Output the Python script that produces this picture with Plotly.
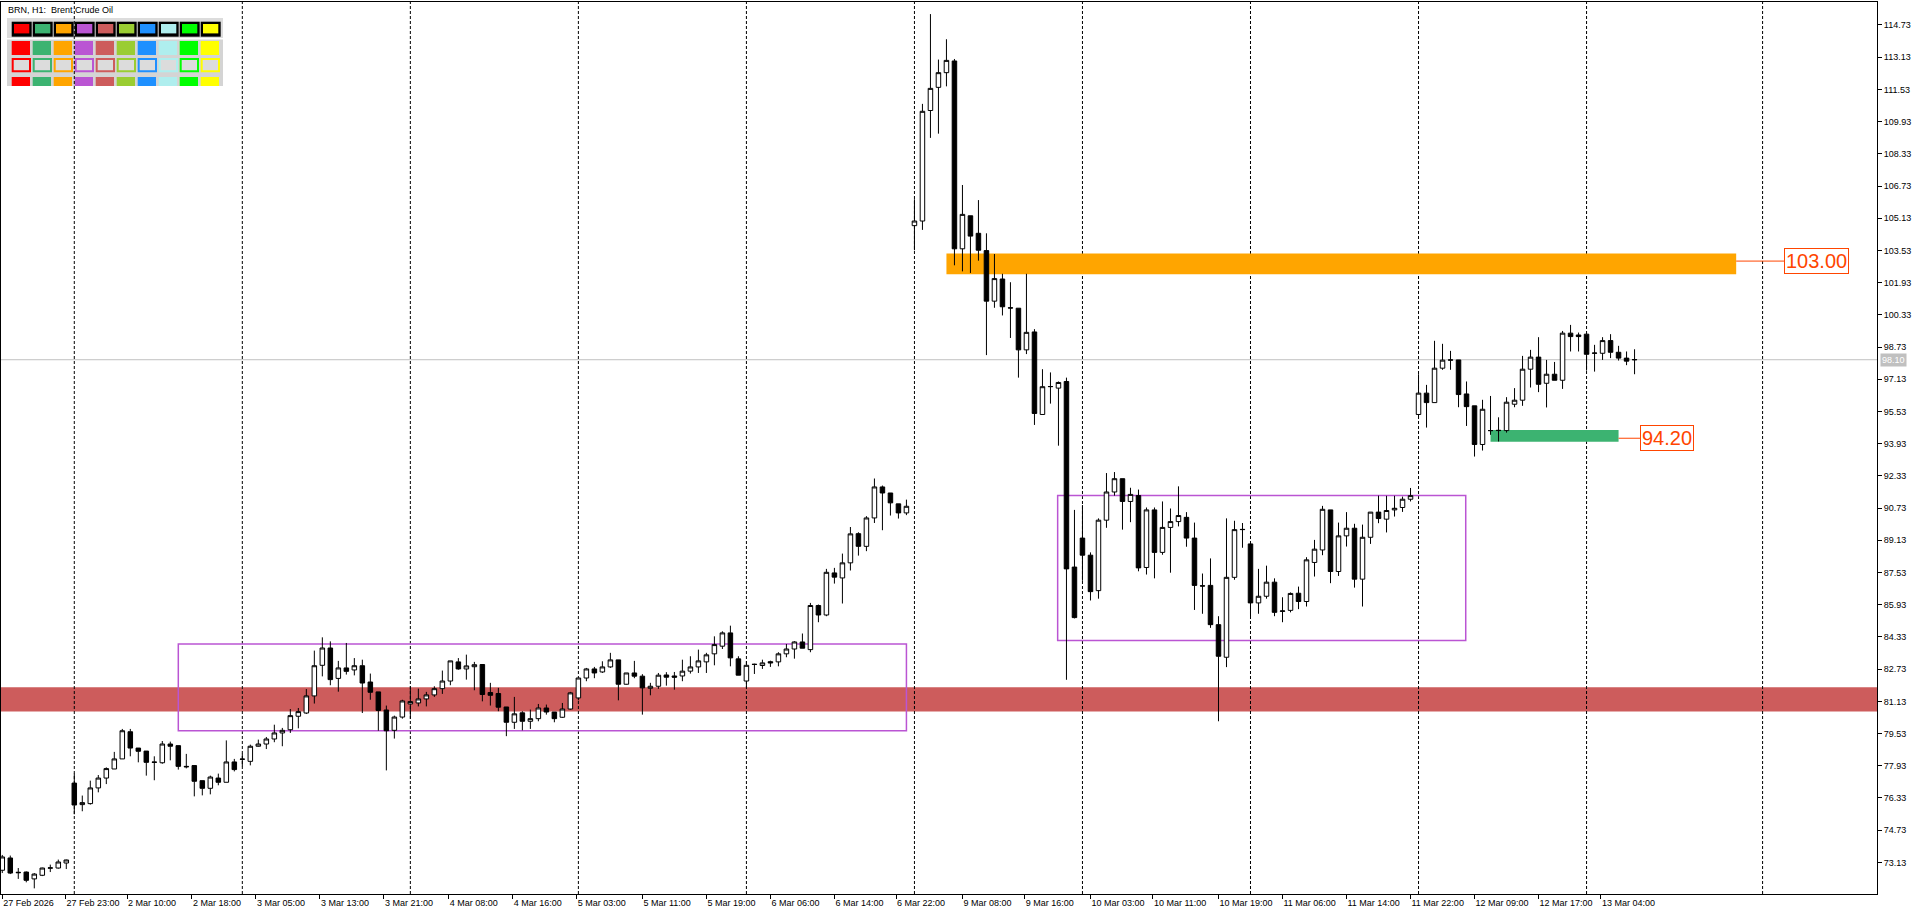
import plotly.graph_objects as go

# hourly Brent bars, 27 Feb 2026 15:00 .. 13 Mar 2026 09:00 (index = bar number)
BAR_OPEN = [
    72.74, 73.35, 72.64, 72.65, 72.31, 72.49, 72.84, 72.85, 73.10,
    77.07, 76.00, 76.05, 76.83, 77.32, 77.77, 78.27, 79.62, 78.81, 78.66,
    78.12, 78.08, 79.01, 78.93, 77.90, 77.94, 77.19, 76.81, 77.32, 77.11, 78.12,
    78.25, 78.15, 78.90, 79.01, 79.26, 79.56, 79.72, 80.39, 80.55, 81.40,
    82.92, 83.78, 82.27, 82.79, 82.69, 82.90, 82.09, 81.60, 80.70, 79.69, 80.35,
    81.00, 81.05, 81.25, 81.45, 81.76, 82.14, 83.09, 82.74, 82.85, 82.96,
    81.57, 81.52, 80.85, 80.09, 80.56, 80.14, 80.27, 80.80, 80.60, 80.34, 80.75,
    81.30, 82.29, 82.74, 82.59, 82.84, 83.19, 81.98, 82.54, 82.38, 81.78,
    81.88, 82.44, 82.39, 82.39, 82.63, 82.84, 83.09, 83.49, 83.87, 84.53, 83.24,
    82.14, 82.96, 82.91, 83.10, 83.09, 83.49, 83.73, 84.08, 83.70, 85.89,
    85.42, 87.51, 87.26, 88.01, 89.46, 88.83, 90.24, 91.78, 91.48, 90.94, 90.49,
    104.76, 104.99, 110.48, 111.63, 112.36, 112.94, 103.61, 105.25, 104.38, 103.52,
    101.01, 102.11, 100.68, 100.66, 98.59, 99.48, 95.38, 96.76, 96.69, 97.02, 87.80,
    89.24, 88.39, 86.63, 90.13, 91.53, 92.19, 91.06, 91.35, 87.78, 90.64,
    88.53, 89.77, 90.06, 90.27, 89.24, 86.87, 86.89, 84.94, 83.32, 87.29, 89.66,
    88.95, 86.02, 86.35, 87.05, 85.60, 85.65, 86.50, 86.09, 88.03, 88.65,
    90.64, 87.58, 89.35, 89.73, 87.20, 89.28, 90.53, 90.18, 90.64, 90.76, 91.17,
    95.38, 96.44, 95.97, 97.68, 98.08, 98.09, 96.40, 95.81, 93.89, 94.58,
    94.58, 94.58, 95.89, 96.09, 97.63, 98.23, 96.93, 97.38, 97.08, 99.42, 99.33,
    99.37, 98.42, 98.42, 99.05, 98.47, 98.18, 98.11,
]
BAR_HIGH = [
    73.50, 73.47, 72.85, 72.68, 72.60, 72.87, 73.02, 73.27, 73.27,
    77.54, 76.45, 77.19, 77.47, 77.85, 78.62, 79.76, 79.76, 78.81, 78.66,
    78.40, 79.16, 79.13, 78.93, 78.52, 77.94, 77.19, 77.44, 77.54, 79.19, 78.27,
    78.53, 78.98, 79.23, 79.36, 79.97, 79.81, 80.75, 80.80, 81.74, 83.65,
    84.31, 84.11, 83.14, 84.03, 83.28, 83.20, 82.51, 81.60, 80.92, 80.42, 81.21,
    81.88, 81.76, 81.60, 81.88, 82.66, 83.14, 83.28, 83.45, 83.09, 82.96,
    82.05, 81.80, 80.85, 81.35, 80.64, 80.72, 81.00, 80.97, 80.60, 81.05, 81.60,
    82.29, 82.79, 82.84, 83.12, 83.54, 83.19, 82.54, 83.14, 82.48, 82.05,
    82.54, 82.58, 82.59, 83.20, 83.37, 83.70, 83.54, 84.36, 84.61, 84.89, 83.37,
    83.12, 83.00, 83.20, 83.15, 83.57, 83.98, 84.12, 84.50, 86.02, 85.94,
    87.71, 87.76, 88.47, 89.79, 89.53, 90.33, 92.20, 91.85, 91.48, 90.94, 91.15,
    106.07, 110.81, 115.27, 113.01, 114.02, 113.04, 106.78, 105.25, 106.03, 104.38,
    103.35, 102.37, 101.95, 100.66, 102.37, 99.62, 97.63, 97.47, 97.02, 97.21, 90.64,
    90.88, 88.53, 90.22, 92.47, 92.52, 92.19, 91.74, 91.65, 90.76, 90.76,
    91.06, 90.71, 91.81, 90.53, 90.01, 87.48, 88.23, 85.36, 90.22, 90.10, 89.99,
    88.95, 87.71, 87.87, 87.24, 86.30, 86.54, 86.83, 88.29, 89.15, 90.84,
    90.64, 90.01, 90.53, 89.95, 89.91, 90.53, 91.35, 91.34, 91.34, 91.30, 91.73,
    97.38, 96.85, 99.04, 98.89, 98.54, 98.09, 97.02, 95.81, 96.11, 96.30,
    95.24, 96.24, 96.69, 98.29, 98.59, 99.22, 98.09, 97.99, 99.53, 99.83, 99.45,
    99.37, 98.84, 99.22, 99.37, 98.79, 98.51, 98.62,
]
BAR_LOW = [
    72.60, 72.55, 72.31, 72.14, 71.84, 72.45, 72.65, 72.82, 72.80,
    75.52, 75.67, 76.00, 76.61, 77.02, 77.77, 78.27, 78.40, 78.10, 77.44,
    77.21, 78.03, 78.20, 77.74, 77.80, 76.41, 76.46, 76.51, 76.96, 77.11, 77.65,
    77.90, 77.95, 78.88, 78.76, 79.10, 78.90, 79.56, 79.79, 80.50, 81.02,
    82.37, 81.93, 81.61, 82.46, 82.42, 80.55, 81.21, 79.67, 77.70, 79.28, 80.27,
    80.27, 80.88, 80.88, 81.35, 81.50, 81.93, 82.70, 82.21, 81.68, 81.13,
    80.92, 80.64, 79.40, 79.76, 79.69, 79.76, 80.14, 80.47, 80.09, 80.31, 80.72,
    81.18, 82.13, 82.28, 82.54, 82.79, 81.18, 81.96, 82.28, 80.47, 81.43,
    81.75, 81.91, 81.71, 82.13, 82.51, 82.54, 82.54, 82.92, 83.73, 82.87, 82.43,
    81.80, 82.49, 82.74, 82.84, 82.87, 83.32, 83.25, 83.77, 83.57, 85.06,
    85.36, 86.98, 85.99, 87.63, 88.37, 88.59, 89.99, 89.63, 90.36, 90.21, 90.38,
    103.54, 104.55, 109.12, 109.33, 111.68, 102.79, 102.49, 102.41, 103.02, 98.33,
    100.68, 100.30, 99.18, 97.21, 98.38, 94.86, 95.38, 95.92, 93.83, 82.20, 85.25,
    87.12, 86.14, 86.23, 89.75, 91.35, 89.66, 90.03, 87.59, 87.43, 87.24,
    88.41, 87.52, 89.82, 88.81, 85.67, 85.48, 84.78, 80.14, 82.83, 87.17, 88.76,
    85.36, 85.48, 86.23, 85.36, 85.06, 85.55, 85.71, 85.84, 87.33, 88.39,
    87.00, 87.36, 88.82, 86.78, 85.84, 88.95, 89.98, 89.52, 90.31, 90.54, 91.06,
    95.28, 94.73, 95.97, 97.60, 97.60, 95.74, 94.81, 93.29, 93.59, 94.37,
    94.04, 94.48, 95.74, 95.81, 96.72, 96.49, 95.73, 97.08, 96.65, 98.51, 98.51,
    97.56, 97.51, 98.09, 98.18, 98.06, 97.83, 97.38,
]
BAR_CLOSE = [
    73.40, 72.60, 72.62, 72.24, 72.55, 72.85, 72.86, 73.15, 73.25,
    75.98, 76.10, 76.83, 77.32, 77.79, 78.27, 79.67, 78.81, 78.65, 78.10,
    78.10, 79.01, 78.90, 77.90, 77.88, 77.16, 76.81, 77.37, 77.11, 78.12, 77.74,
    78.26, 78.90, 79.01, 79.26, 79.56, 79.69, 80.42, 80.62, 81.40, 82.90,
    83.78, 82.21, 82.79, 82.62, 82.90, 82.04, 81.58, 80.68, 79.67, 80.35, 81.15,
    81.12, 81.25, 81.45, 81.76, 82.14, 83.14, 82.74, 82.89, 82.95, 81.47,
    81.43, 80.84, 80.09, 80.51, 80.14, 80.27, 80.80, 80.60, 80.27, 80.75, 81.55,
    82.29, 82.74, 82.54, 82.84, 83.19, 81.98, 82.54, 82.38, 81.80, 81.88,
    82.43, 82.33, 82.33, 82.63, 82.84, 83.14, 83.44, 83.95, 84.53, 83.29, 82.43,
    82.92, 82.97, 83.04, 83.04, 83.49, 83.73, 84.08, 83.77, 85.89, 85.42,
    87.54, 87.30, 88.01, 89.45, 88.83, 90.24, 91.78, 91.48, 90.99, 90.49, 90.82,
    104.99, 110.44, 111.58, 112.36, 112.97, 103.61, 105.32, 104.24, 103.54, 101.01,
    102.13, 100.73, 100.67, 98.59, 99.46, 95.43, 96.76, 96.77, 96.97, 87.71, 85.29,
    88.39, 86.58, 90.13, 91.53, 92.19, 91.06, 91.41, 87.76, 90.64, 88.53,
    89.77, 90.06, 90.36, 89.24, 86.89, 86.86, 84.94, 83.37, 87.29, 89.66, 89.67,
    86.02, 86.35, 87.05, 85.55, 85.62, 86.49, 86.09, 88.16, 88.69, 90.67,
    87.58, 89.35, 89.73, 87.20, 89.28, 90.53, 90.21, 90.61, 90.72, 91.17, 91.35,
    96.44, 95.97, 97.68, 98.08, 98.09, 96.37, 95.77, 93.89, 95.64, 94.58,
    94.59, 95.99, 96.09, 97.63, 98.23, 96.88, 97.38, 97.08, 99.42, 99.25, 99.25,
    98.37, 98.43, 99.05, 98.47, 98.18, 98.03, 98.10,
]

# time axis labels and the bar they sit on
TICK_LABELS = [
    "27 Feb 2026", "27 Feb 23:00", "2 Mar 10:00", "2 Mar 18:00", "3 Mar 05:00",
    "3 Mar 13:00", "3 Mar 21:00", "4 Mar 08:00", "4 Mar 16:00", "5 Mar 03:00",
    "5 Mar 11:00", "5 Mar 19:00", "6 Mar 06:00", "6 Mar 14:00", "6 Mar 22:00",
    "9 Mar 08:00", "9 Mar 16:00", "10 Mar 03:00", "10 Mar 11:00", "10 Mar 19:00",
    "11 Mar 06:00", "11 Mar 14:00", "11 Mar 22:00", "12 Mar 09:00", "12 Mar 17:00",
    "13 Mar 04:00",
]
TICK_BARS = [0, 7.9, 15.6, 23.7, 31.7, 39.7, 47.7, 55.8, 63.8, 71.8, 80, 88, 96, 104,
             111.7, 120, 127.8, 136, 143.8, 152, 160, 168, 176, 184, 192, 199.8]

# first bar of each day (period separators), last one is 14 Mar in the future
DAY_STARTS = [9, 30, 51, 72, 93, 114, 135, 156, 177, 198, 220]

PRICE_TICKS = [73.13, 74.73, 76.33, 77.93, 79.53, 81.13, 82.73, 84.33, 85.93, 87.53,
               89.13, 90.73, 92.33, 93.93, 95.53, 97.13, 98.73, 100.33, 101.93,
               103.53, 105.13, 106.73, 108.33, 109.93, 111.53, 113.13, 114.73]

LAST_PRICE = 98.10

# support / resistance zones: bar from, bar to, price low, price high
RED_ZONE = [80.63, 81.83]
ORANGE_ZONE = [118, 216.7, 102.35, 103.38]
GREEN_ZONE = [186, 202, 94.03, 94.61]
ORANGE_LEVEL = 103.00
GREEN_LEVEL = 94.20

# consolidation rectangles: bar from, bar to, price low, price high
RANGE_BOXES = [
    [22, 113, 79.67, 83.98],
    [131.9, 182.9, 84.15, 91.35],
]

PALETTE = ["#FF0000", "#3CB371", "#FFA500", "#BA55D3", "#CD5C5C",
           "#9ACD32", "#1E90FF", "#AFEEEE", "#00FF00", "#FFFF00"]

W, H = 1920, 915
ML, MR, MT, MB = 1, 43, 2, 21
FONT = "Liberation Sans"


def px(x):
    return (x - ML) / (W - ML - MR)


def py(y):
    return 1 - (y - MT) / (H - MT - MB)


def pixel_rect(x0, y0, x1, y1, fill, line_color=None, line_width=0):
    return dict(type="rect", xref="paper", yref="paper",
                x0=px(x0), x1=px(x1), y0=py(y1), y1=py(y0),
                fillcolor=fill, layer="below",
                line=dict(color=line_color or fill, width=line_width))


def build_chart():
    bars = list(range(len(BAR_CLOSE)))

    fig = go.Figure()
    fig.add_trace(go.Candlestick(
        x=bars, open=BAR_OPEN, high=BAR_HIGH, low=BAR_LOW, close=BAR_CLOSE,
        increasing=dict(line=dict(color="black", width=1), fillcolor="white"),
        decreasing=dict(line=dict(color="black", width=1), fillcolor="black"),
        whiskerwidth=0, showlegend=False, name="BRN",
    ))

    shapes = []
    # red zone across the whole chart
    shapes.append(dict(type="rect", xref="paper", yref="y", x0=0, x1=1,
                       y0=RED_ZONE[0], y1=RED_ZONE[1], fillcolor="#CD5C5C",
                       line=dict(width=0), layer="below"))
    for zone, color in [(ORANGE_ZONE, "#FFA500"), (GREEN_ZONE, "#3CB371")]:
        shapes.append(dict(type="rect", xref="x", yref="y", x0=zone[0], x1=zone[1],
                           y0=zone[2], y1=zone[3], fillcolor=color,
                           line=dict(width=0), layer="below"))
    for box in RANGE_BOXES:
        shapes.append(dict(type="rect", xref="x", yref="y", x0=box[0], x1=box[1],
                           y0=box[2], y1=box[3], fillcolor="rgba(0,0,0,0)",
                           line=dict(color="#BA55D3", width=1.5), layer="below"))

    # connector lines to the price labels
    shapes.append(dict(type="line", xref="x", yref="y", x0=ORANGE_ZONE[1], x1=222.7,
                       y0=ORANGE_LEVEL, y1=ORANGE_LEVEL,
                       line=dict(color="#FF4500", width=1)))
    shapes.append(dict(type="line", xref="x", yref="y", x0=GREEN_ZONE[1], x1=204.7,
                       y0=GREEN_LEVEL, y1=GREEN_LEVEL,
                       line=dict(color="#FF4500", width=1)))

    # last price line
    shapes.append(dict(type="line", xref="paper", yref="y", x0=0, x1=1,
                       y0=LAST_PRICE, y1=LAST_PRICE,
                       line=dict(color="#C0C0C0", width=1), layer="below"))

    # colour picker panel in the corner
    shapes.append(pixel_rect(7, 18, 223, 86, "#D4D4D4"))
    shapes.append(pixel_rect(7, 18, 223, 38, "#DCDCDC"))
    shapes.append(pixel_rect(7, 38, 223, 39.5, "#FFFFFF"))
    for k, color in enumerate(PALETTE):
        x0 = 11.7 + 21 * k
        shapes.append(pixel_rect(x0, 21.7, x0 + 20, 36.7, "#000000"))
        shapes.append(pixel_rect(x0 + 2.3, 24, x0 + 17.6, 33.4, color))
        shapes.append(pixel_rect(x0, 41, x0 + 18.3, 55, color))
        shapes.append(pixel_rect(x0 + 1, 59, x0 + 18.3, 71.2, "#DCDCDC", color, 2))
        shapes.append(pixel_rect(x0, 77, x0 + 18.3, 86, color))

    # day separators
    for d in DAY_STARTS:
        shapes.append(dict(type="line", xref="x", yref="paper", x0=d, x1=d, y0=0, y1=1,
                           line=dict(color="black", width=1, dash="3px,2px"),
                           layer="below"))

    annotations = [
        dict(text="BRN, H1:\u00a0 Brent Crude Oil", xref="paper", yref="paper",
             x=px(6), y=py(3), xanchor="left", yanchor="top", showarrow=False,
             font=dict(family=FONT, size=9, color="black")),
        dict(text=f"{ORANGE_LEVEL:.2f}", xref="x", yref="y", x=222.7, y=ORANGE_LEVEL,
             xanchor="left", yanchor="middle", showarrow=False,
             font=dict(family=FONT, size=20, color="#FF4500"),
             bgcolor="white", bordercolor="#FF4500", borderwidth=1, borderpad=1),
        dict(text=f"{GREEN_LEVEL:.2f}", xref="x", yref="y", x=204.7, y=GREEN_LEVEL,
             xanchor="left", yanchor="middle", showarrow=False,
             font=dict(family=FONT, size=20, color="#FF4500"),
             bgcolor="white", bordercolor="#FF4500", borderwidth=1, borderpad=1),
        dict(text=f"{LAST_PRICE:.2f}", xref="paper", yref="y", x=1, y=LAST_PRICE,
             xanchor="left", yanchor="middle", xshift=3, showarrow=False,
             font=dict(family=FONT, size=9, color="white"),
             bgcolor="#C0C0C0", borderpad=1),
    ]

    fig.update_layout(
        width=W, height=H,
        margin=dict(l=ML, r=MR, t=MT, b=MB),
        paper_bgcolor="white", plot_bgcolor="white",
        boxgap=0.25, boxgroupgap=0.25,
        showlegend=False,
        shapes=shapes,
        annotations=annotations,
        font=dict(family=FONT, size=9, color="black"),
    )
    fig.update_xaxes(
        range=[-0.16, 234.3], rangeslider=dict(visible=False),
        tickmode="array", tickvals=TICK_BARS, ticktext=TICK_LABELS,
        ticks="outside", ticklen=4, tickcolor="black", tickangle=0,
        ticklabelposition="outside right",
        showgrid=False, zeroline=False,
        showline=True, linecolor="black", linewidth=1, mirror=True,
        tickfont=dict(family=FONT, size=9, color="black"),
        automargin=False, fixedrange=True,
    )
    fig.update_yaxes(
        range=[71.56, 115.87], side="right",
        tickmode="array", tickvals=PRICE_TICKS,
        ticktext=[f"{v:.2f}" for v in PRICE_TICKS],
        ticks="outside", ticklen=4, tickcolor="black",
        showgrid=False, zeroline=False,
        showline=True, linecolor="black", linewidth=1, mirror=True,
        tickfont=dict(family=FONT, size=9, color="black"),
        automargin=False, fixedrange=True,
    )
    return fig


if __name__ == "__main__":
    fig = build_chart()
    fig.write_html("out.html", config={"displayModeBar": False},
                   post_script="document.body.style.margin='0px';")
